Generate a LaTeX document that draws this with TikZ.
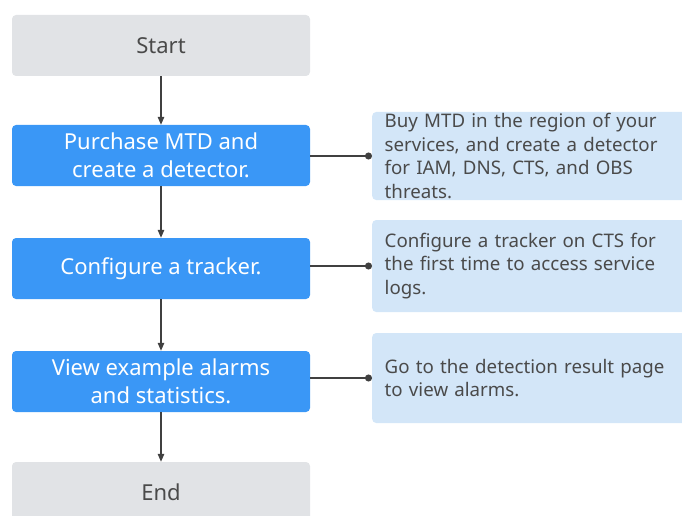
\documentclass[tikz,border=0pt]{standalone}
\usepackage{fontspec}
\setmainfont{Noto Sans}
\usetikzlibrary{arrows.meta}
\definecolor{bluebox}{HTML}{3A97F6}
\definecolor{graybox}{HTML}{E1E3E6}
\definecolor{notebox}{HTML}{D3E6F8}
\definecolor{txtgray}{HTML}{4A4A4A}
\definecolor{linegray}{HTML}{404040}
\begin{document}
\begin{tikzpicture}[x=1pt,y=-1pt,
  base/.style={rectangle,rounded corners=4pt,minimum width=298pt,minimum height=61pt,inner sep=0pt,align=center,font=\fontsize{22}{28}\selectfont},
  endbox/.style={base,fill=graybox,text=txtgray},
  stepbox/.style={base,fill=bluebox,text=white},
  notebx/.style={rectangle,rounded corners=4pt,fill=notebox,text=txtgray,anchor=west,minimum width=330pt,text width=305pt,inner xsep=12pt,inner ysep=0pt,align=left,font=\fontsize{18.7}{23.5}\selectfont},
  arr/.style={draw=linegray,line width=1.3pt,-{Triangle[length=8pt,width=6.5pt]}},
  con/.style={draw=linegray,line width=1.3pt,-{Circle[length=7pt]}}
]
\clip (0,0) rectangle (682,516);
\useasboundingbox (0,0) rectangle (682,516);
\node[endbox] (s) at (161,45.5) {Start};
\node[stepbox] (p) at (161,155.5) {Purchase MTD and\\create a detector.};
\node[stepbox] (c) at (161,268.5) {Configure a tracker.};
\node[stepbox] (v) at (161,381.5) {View example alarms\\and statistics.};
\node[endbox] (e) at (161,492.5) {End};
\node[notebx,minimum height=88pt] (n1) at (372,156) {Buy MTD in the region of your\\services, and create a detector\\for IAM, DNS, CTS, and OBS\\threats.};
\node[notebx,minimum height=92pt] (n2) at (372,266) {Configure a tracker on CTS for\\the first time to access service\\logs.};
\node[notebx,minimum height=90pt] (n3) at (372,378) {Go to the detection result page\\to view alarms.};
\draw[arr] (s) -- (p);
\draw[arr] (p) -- (c);
\draw[arr] (c) -- (v);
\draw[arr] (v) -- (e);
\draw[con] (n1.west -| p.east) -- (n1.west);
\draw[con] (n2.west -| c.east) -- (n2.west);
\draw[con] (n3.west -| v.east) -- (n3.west);
\end{tikzpicture}
\end{document}
